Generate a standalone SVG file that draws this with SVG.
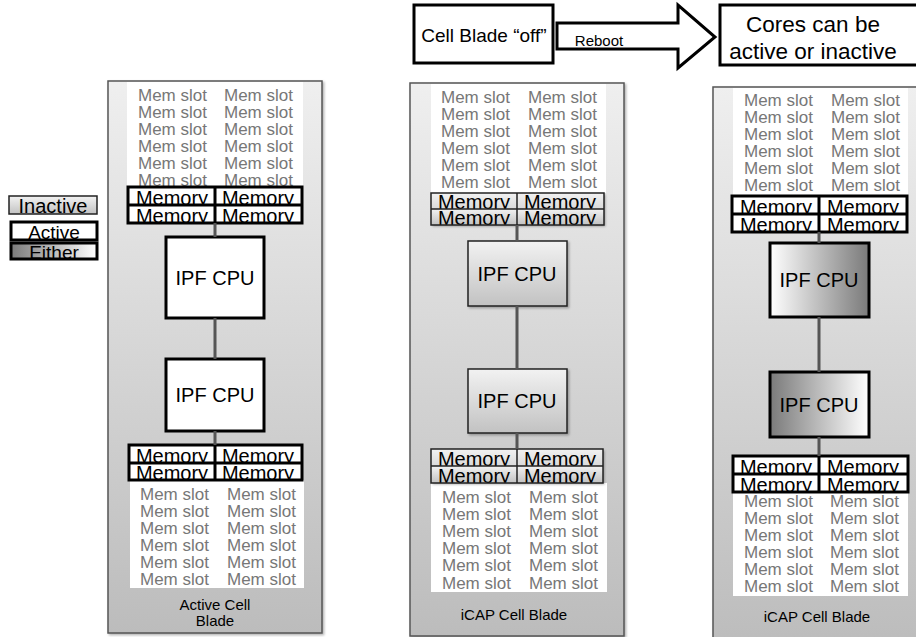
<svg xmlns="http://www.w3.org/2000/svg" width="916" height="637" viewBox="0 0 916 637">
<defs>
<linearGradient id="gBlade" x1="0" y1="0" x2="0" y2="1"><stop offset="0" stop-color="#efefef"/><stop offset="1" stop-color="#bcbcbc"/></linearGradient>
<linearGradient id="gInact" x1="0" y1="0" x2="0" y2="1"><stop offset="0" stop-color="#f2f2f2"/><stop offset="1" stop-color="#c2c2c2"/></linearGradient>
<linearGradient id="gEitherA" x1="0" y1="0" x2="1" y2="0"><stop offset="0" stop-color="#ffffff"/><stop offset="1" stop-color="#7a7a7a"/></linearGradient>
<linearGradient id="gEitherB" x1="0" y1="0" x2="1" y2="0"><stop offset="0" stop-color="#7a7a7a"/><stop offset="1" stop-color="#ffffff"/></linearGradient>
<filter id="sh" x="-5%" y="-5%" width="115%" height="115%"><feDropShadow dx="1.5" dy="1.5" stdDeviation="1.2" flood-color="#000" flood-opacity="0.3"/></filter>
<clipPath id="c1"><rect x="128" y="187" width="174" height="36"/></clipPath>
<clipPath id="c2"><rect x="129" y="445" width="173" height="35"/></clipPath>
<clipPath id="c3"><rect x="431" y="193" width="173" height="32"/></clipPath>
<clipPath id="c4"><rect x="431" y="449" width="172" height="34"/></clipPath>
<clipPath id="c5"><rect x="732" y="196" width="175" height="36"/></clipPath>
<clipPath id="c6"><rect x="733" y="456" width="175" height="36"/></clipPath>
</defs>
<style>
text{font-family:"Liberation Sans",Arial,sans-serif;}
.blade{fill:url(#gBlade);stroke:#555;stroke-width:1.5;}
.slotbg{fill:#ffffff;}
.slot{font-size:17px;fill:#777;}
.mem{font-size:20px;fill:#000;text-anchor:middle;}
.act{fill:#fff;stroke:#000;stroke-width:3;}
.inact{fill:url(#gInact);stroke:#222;stroke-width:1.5;}
.line{stroke:#000;stroke-width:3;fill:none;}
.tline{stroke:#222;stroke-width:1.5;fill:none;}
.cpu{font-size:20px;fill:#000;text-anchor:middle;}
.lbl{font-size:15px;fill:#000;text-anchor:middle;}
.big{font-size:22.5px;fill:#000;text-anchor:middle;}
.conn{stroke:#555;stroke-width:3;fill:none;}
</style>

<g id="legend">
<rect x="9" y="196" width="88" height="18" class="inact"/>
<text x="53" y="213" style="font-size:20px;text-anchor:middle">Inactive</text>
<rect x="11" y="222" width="86" height="18" class="act"/>
<text x="54" y="239" style="font-size:19px;text-anchor:middle">Active</text>
<rect x="11" y="243" width="86" height="16" style="fill:url(#gEitherB);stroke:#000;stroke-width:3"/>
<text x="54" y="259" style="font-size:19px;text-anchor:middle">Either</text>
</g>

<g id="top-off">
<rect x="414" y="5" width="139" height="58" style="fill:#fff;stroke:#000;stroke-width:3"/>
<text x="484" y="42" style="font-size:19px;text-anchor:middle">Cell Blade “off”</text>
</g>
<g id="reboot-arrow">
<polygon points="557,23 678,23 678,5 715,37 678,68 678,49 557,49" style="fill:#fff;stroke:#000;stroke-width:3;stroke-linejoin:miter"/>
<text x="599" y="46" style="font-size:15px;text-anchor:middle">Reboot</text>
</g>
<g id="top-cores">
<rect x="720" y="5" width="210" height="60" style="fill:#fff;stroke:#000;stroke-width:3"/>
<text x="813" y="32" class="big">Cores can be</text>
<text x="813" y="59" class="big">active or inactive</text>
</g>

<!-- Blade 1 -->
<g id="blade1">
<rect x="108" y="81" width="214" height="552" class="blade" filter="url(#sh)"/>
<rect x="127" y="82" width="176" height="105" class="slotbg"/>
<g class="slot">
<text x="138" y="101">Mem slot</text><text x="224" y="101">Mem slot</text>
<text x="138" y="118">Mem slot</text><text x="224" y="118">Mem slot</text>
<text x="138" y="135">Mem slot</text><text x="224" y="135">Mem slot</text>
<text x="138" y="152">Mem slot</text><text x="224" y="152">Mem slot</text>
<text x="138" y="169">Mem slot</text><text x="224" y="169">Mem slot</text>
<text x="138" y="186">Mem slot</text><text x="224" y="186">Mem slot</text>
</g>
<rect x="130" y="480" width="174" height="108" class="slotbg"/>
<g class="slot">
<text x="140" y="500">Mem slot</text><text x="227" y="500">Mem slot</text>
<text x="140" y="517">Mem slot</text><text x="227" y="517">Mem slot</text>
<text x="140" y="534">Mem slot</text><text x="227" y="534">Mem slot</text>
<text x="140" y="551">Mem slot</text><text x="227" y="551">Mem slot</text>
<text x="140" y="568">Mem slot</text><text x="227" y="568">Mem slot</text>
<text x="140" y="585">Mem slot</text><text x="227" y="585">Mem slot</text>
</g>
<text x="215" y="610" class="lbl">Active Cell</text>
<text x="215" y="626" class="lbl">Blade</text>
</g>
<g id="b1-mem-top">
<rect x="128" y="187" width="174" height="36" fill="#fff"/>
<g clip-path="url(#c1)">
<text x="172" y="205" class="mem">Memory</text><text x="258" y="205" class="mem">Memory</text>
<rect x="128" y="205" width="174" height="18" fill="#fff"/>
<text x="172" y="223" class="mem">Memory</text><text x="258" y="223" class="mem">Memory</text>
</g>
<rect x="128" y="187" width="174" height="36" class="line"/>
<path d="M128 205H302M215 187V223" class="line"/>
</g>
<g id="b1-cpu1"><rect x="166" y="237" width="98" height="81" class="act"/><text x="215" y="285" class="cpu">IPF CPU</text></g>
<g id="b1-cpu2"><rect x="166" y="359" width="98" height="72" class="act"/><text x="215" y="402" class="cpu">IPF CPU</text></g>
<g id="b1-mem-bot">
<rect x="129" y="445" width="173" height="35" fill="#fff"/>
<g clip-path="url(#c2)">
<text x="172" y="463" class="mem">Memory</text><text x="258" y="463" class="mem">Memory</text>
<rect x="129" y="463" width="173" height="17" fill="#fff"/>
<text x="172" y="480" class="mem">Memory</text><text x="258" y="480" class="mem">Memory</text>
</g>
<rect x="129" y="445" width="173" height="35" class="line"/>
<path d="M129 463H302M215 445V480" class="line"/>
</g>

<!-- Blade 2 -->
<g id="blade2">
<rect x="410" y="83" width="214" height="553" class="blade" filter="url(#sh)"/>
<rect x="431" y="84" width="175" height="109" class="slotbg"/>
<g class="slot">
<text x="441" y="103">Mem slot</text><text x="528" y="103">Mem slot</text>
<text x="441" y="120">Mem slot</text><text x="528" y="120">Mem slot</text>
<text x="441" y="137">Mem slot</text><text x="528" y="137">Mem slot</text>
<text x="441" y="154">Mem slot</text><text x="528" y="154">Mem slot</text>
<text x="441" y="171">Mem slot</text><text x="528" y="171">Mem slot</text>
<text x="441" y="188">Mem slot</text><text x="528" y="188">Mem slot</text>
</g>
<rect x="431" y="483" width="176" height="109" class="slotbg"/>
<g class="slot">
<text x="442" y="503">Mem slot</text><text x="529" y="503">Mem slot</text>
<text x="442" y="520">Mem slot</text><text x="529" y="520">Mem slot</text>
<text x="442" y="537">Mem slot</text><text x="529" y="537">Mem slot</text>
<text x="442" y="554">Mem slot</text><text x="529" y="554">Mem slot</text>
<text x="442" y="571">Mem slot</text><text x="529" y="571">Mem slot</text>
<text x="442" y="589">Mem slot</text><text x="529" y="589">Mem slot</text>
</g>
<text x="514" y="620" class="lbl">iCAP Cell Blade</text>
</g>
<g id="b2-mem-top">
<rect x="431" y="193" width="173" height="32" fill="url(#gInact)" filter="url(#sh)"/>
<g clip-path="url(#c3)">
<text x="474" y="209" class="mem">Memory</text><text x="560" y="209" class="mem">Memory</text>
<rect x="431" y="209" width="173" height="16" fill="url(#gInact)"/>
<text x="474" y="225" class="mem">Memory</text><text x="560" y="225" class="mem">Memory</text>
</g>
<rect x="431" y="193" width="173" height="32" class="tline"/>
<path d="M431 209H604M517 193V225" class="tline"/>
</g>
<g id="b2-cpu1"><rect x="468" y="241" width="99" height="65" class="inact" filter="url(#sh)"/><text x="517" y="281" class="cpu">IPF CPU</text></g>
<g id="b2-cpu2"><rect x="468" y="369" width="99" height="64" class="inact" filter="url(#sh)"/><text x="517" y="408" class="cpu">IPF CPU</text></g>
<g id="b2-mem-bot">
<rect x="431" y="449" width="172" height="34" fill="url(#gInact)" filter="url(#sh)"/>
<g clip-path="url(#c4)">
<text x="474" y="466" class="mem">Memory</text><text x="560" y="466" class="mem">Memory</text>
<rect x="431" y="466" width="172" height="17" fill="url(#gInact)"/>
<text x="474" y="483" class="mem">Memory</text><text x="560" y="483" class="mem">Memory</text>
</g>
<rect x="431" y="449" width="172" height="34" class="tline"/>
<path d="M431 466H603M517 449V483" class="tline"/>
</g>

<!-- Blade 3 -->
<g id="blade3">
<rect x="713" y="87" width="214" height="560" class="blade" filter="url(#sh)"/>
<rect x="733" y="88" width="175" height="108" class="slotbg"/>
<g class="slot">
<text x="744" y="106">Mem slot</text><text x="831" y="106">Mem slot</text>
<text x="744" y="123">Mem slot</text><text x="831" y="123">Mem slot</text>
<text x="744" y="140">Mem slot</text><text x="831" y="140">Mem slot</text>
<text x="744" y="157">Mem slot</text><text x="831" y="157">Mem slot</text>
<text x="744" y="174">Mem slot</text><text x="831" y="174">Mem slot</text>
<text x="744" y="191">Mem slot</text><text x="831" y="191">Mem slot</text>
</g>
<rect x="733" y="492" width="175" height="104" class="slotbg"/>
<g class="slot">
<text x="744" y="507">Mem slot</text><text x="830" y="507">Mem slot</text>
<text x="744" y="524">Mem slot</text><text x="830" y="524">Mem slot</text>
<text x="744" y="541">Mem slot</text><text x="830" y="541">Mem slot</text>
<text x="744" y="558">Mem slot</text><text x="830" y="558">Mem slot</text>
<text x="744" y="575">Mem slot</text><text x="830" y="575">Mem slot</text>
<text x="744" y="592">Mem slot</text><text x="830" y="592">Mem slot</text>
</g>
<text x="817" y="622" class="lbl">iCAP Cell Blade</text>
</g>
<g id="b3-mem-top">
<rect x="732" y="196" width="175" height="36" fill="#fff"/>
<g clip-path="url(#c5)">
<text x="776" y="214" class="mem">Memory</text><text x="863" y="214" class="mem">Memory</text>
<rect x="732" y="214" width="175" height="18" fill="#fff"/>
<text x="776" y="232" class="mem">Memory</text><text x="863" y="232" class="mem">Memory</text>
</g>
<rect x="732" y="196" width="175" height="36" class="line"/>
<path d="M732 214H907M819 196V232" class="line"/>
</g>
<g id="b3-cpu1"><rect x="770" y="243" width="99" height="74" style="fill:url(#gEitherA);stroke:#000;stroke-width:3"/><text x="819" y="287" class="cpu">IPF CPU</text></g>
<g id="b3-cpu2"><rect x="770" y="372" width="99" height="65" style="fill:url(#gEitherB);stroke:#000;stroke-width:3"/><text x="819" y="412" class="cpu">IPF CPU</text></g>
<g id="b3-mem-bot">
<rect x="733" y="456" width="175" height="36" fill="#fff"/>
<g clip-path="url(#c6)">
<text x="776" y="474" class="mem">Memory</text><text x="863" y="474" class="mem">Memory</text>
<rect x="733" y="474" width="175" height="18" fill="#fff"/>
<text x="776" y="492" class="mem">Memory</text><text x="863" y="492" class="mem">Memory</text>
</g>
<rect x="733" y="456" width="175" height="36" class="line"/>
<path d="M733 474H908M819 456V492" class="line"/>
</g>

<g id="connectors">
<path d="M215 223V237M215 318V359M215 431V445" class="conn"/>
<path d="M517 225V241M517 306V369M517 433V449" class="conn"/>
<path d="M819 232V243M819 317V372M819 437V456" class="conn"/>
</g>
</svg>
